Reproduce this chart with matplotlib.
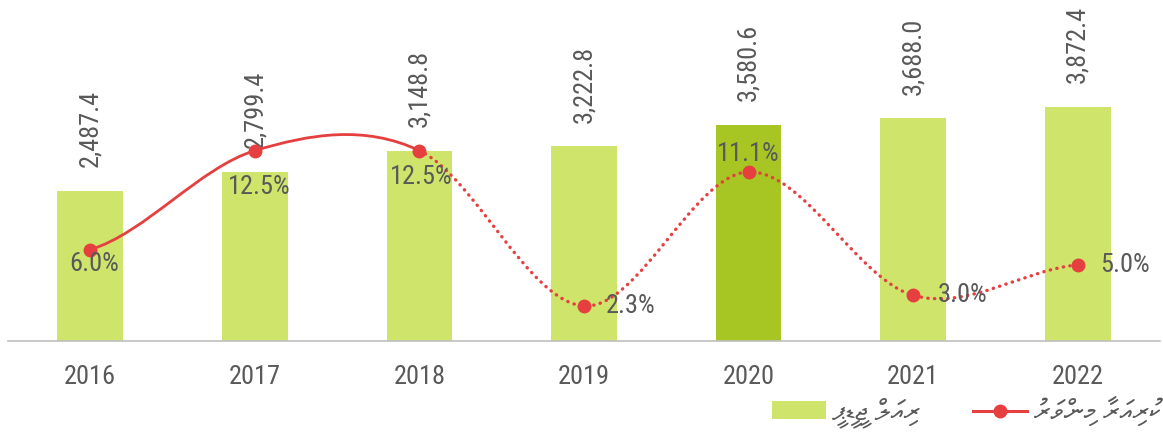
import matplotlib
matplotlib.use("Agg")
import matplotlib.pyplot as plt
from matplotlib import font_manager as fm
from matplotlib.path import Path
from matplotlib.patches import PathPatch, Patch
from matplotlib.lines import Line2D

# données
annees = ["2016", "2017", "2018", "2019", "2020", "2021", "2022"]
valeurs = [2487.4, 2799.4, 3148.8, 3222.8, 3580.6, 3688.0, 3872.4]
croissance = [6.0, 12.5, 12.5, 2.3, 11.1, 3.0, 5.0]
etiquettes_valeurs = ["2,487.4", "2,799.4", "3,148.8", "3,222.8", "3,580.6", "3,688.0", "3,872.4"]
etiquettes_pct = ["6.0%", "12.5%", "12.5%", "2.3%", "11.1%", "3.0%", "5.0%"]
legende_barres = "ރިއަލް ޖީޑީޕީ"
legende_ligne = "ކުރިއަރާ މިންވަރު"

VERT = "#cee46b"
VERT_FONCE = "#a7c523"
ROUGE = "#e5403f"
GRIS = "#595959"

noms = {f.name for f in fm.fontManager.ttflist}
police = "Roboto Condensed" if "Roboto Condensed" in noms else "Roboto"
plt.rcParams["font.family"] = [police, "DejaVu Sans"]


# matplotlib n'a pas de bidi : on inverse le texte thaana caractère par caractère
# (les fili de FreeSerif sont dessinés pour une écriture de droite à gauche)
def rtl(s):
    return s[::-1]


fig = plt.figure(figsize=(11.63, 4.34), dpi=100)
ax = fig.add_axes([8 / 1163, 93 / 434, 1152 / 1163, 341 / 434])
x = list(range(len(annees)))
couleurs = [VERT_FONCE if a == "2020" else VERT for a in annees]
ax.bar(x, valeurs, width=0.4, color=couleurs, zorder=2)
ax.set_xlim(-0.5, len(annees) - 0.5)
ax.set_ylim(0, 5643)
for s in ["top", "left", "right"]:
    ax.spines[s].set_visible(False)
ax.spines["bottom"].set_color("#bfbfbf")
ax.spines["bottom"].set_linewidth(1.2)
ax.set_yticks([])
ax.set_xticks(x)
ax.set_xticklabels(annees, fontsize=19, color=GRIS)
ax.tick_params(axis="x", length=0, pad=17)
for xi, v, t in zip(x, valeurs, etiquettes_valeurs):
    ax.annotate(t, (xi, v), xytext=(0, 17), textcoords="offset points",
                rotation=90, ha="center", va="bottom", fontsize=19, color=GRIS)

# courbe lissée (style Excel) sur l'axe secondaire
ax2 = ax.twinx()
ax2.set_ylim(0, 22.39)
ax2.axis("off")
n = len(croissance)


def segment(i):
    p0 = croissance[max(i - 1, 0)]
    p1 = croissance[i]
    p2 = croissance[i + 1]
    p3 = croissance[min(i + 2, n - 1)]
    return [(i + 1 / 3, p1 + (p2 - p0) / 6), (i + 2 / 3, p2 - (p3 - p1) / 6), (i + 1, p2)]


def chemin(debut, fin):
    verts = [(debut, croissance[debut])]
    codes = [Path.MOVETO]
    for i in range(debut, fin):
        verts += segment(i)
        codes += [Path.CURVE4] * 3
    return Path(verts, codes)


ax2.add_patch(PathPatch(chemin(0, 2), fill=False, edgecolor=ROUGE, lw=2.0, zorder=3))
ax2.add_patch(PathPatch(chemin(2, n - 1), fill=False, edgecolor=ROUGE, lw=2.4,
                        linestyle=(0, (0.1, 1.9)), capstyle="round", zorder=3))
ax2.plot(x, croissance, "o", color=ROUGE, ms=9, zorder=4)

decalages = [(4, -14), (4, -36), (2, -26), (22, 0), (0, 18), (25, 0), (22, 0)]
for xi, v, t, (dx, dy) in zip(x, croissance, etiquettes_pct, decalages):
    ax2.annotate(t, (xi, v), xytext=(dx * 0.72, dy * 0.72), textcoords="offset points",
                 ha="left" if dx > 10 else "center", va="center",
                 fontsize=19, color=GRIS, zorder=5)

poignees = [Patch(facecolor=VERT, edgecolor="none"),
            Line2D([], [], color=ROUGE, lw=2.2, marker="o", ms=9)]
leg = fig.legend(poignees, [rtl(legende_barres), rtl(legende_ligne)],
                 loc="center right", bbox_to_anchor=(1160 / 1163, 22 / 434), ncol=2,
                 frameon=False, prop={"family": ["FreeSerif", "DejaVu Sans"], "size": 20},
                 handlelength=1.95, handleheight=0.58, handletextpad=0.22, columnspacing=1.9,
                 labelcolor=GRIS, borderpad=0, borderaxespad=0)

fig.savefig("out.png", dpi=100)
